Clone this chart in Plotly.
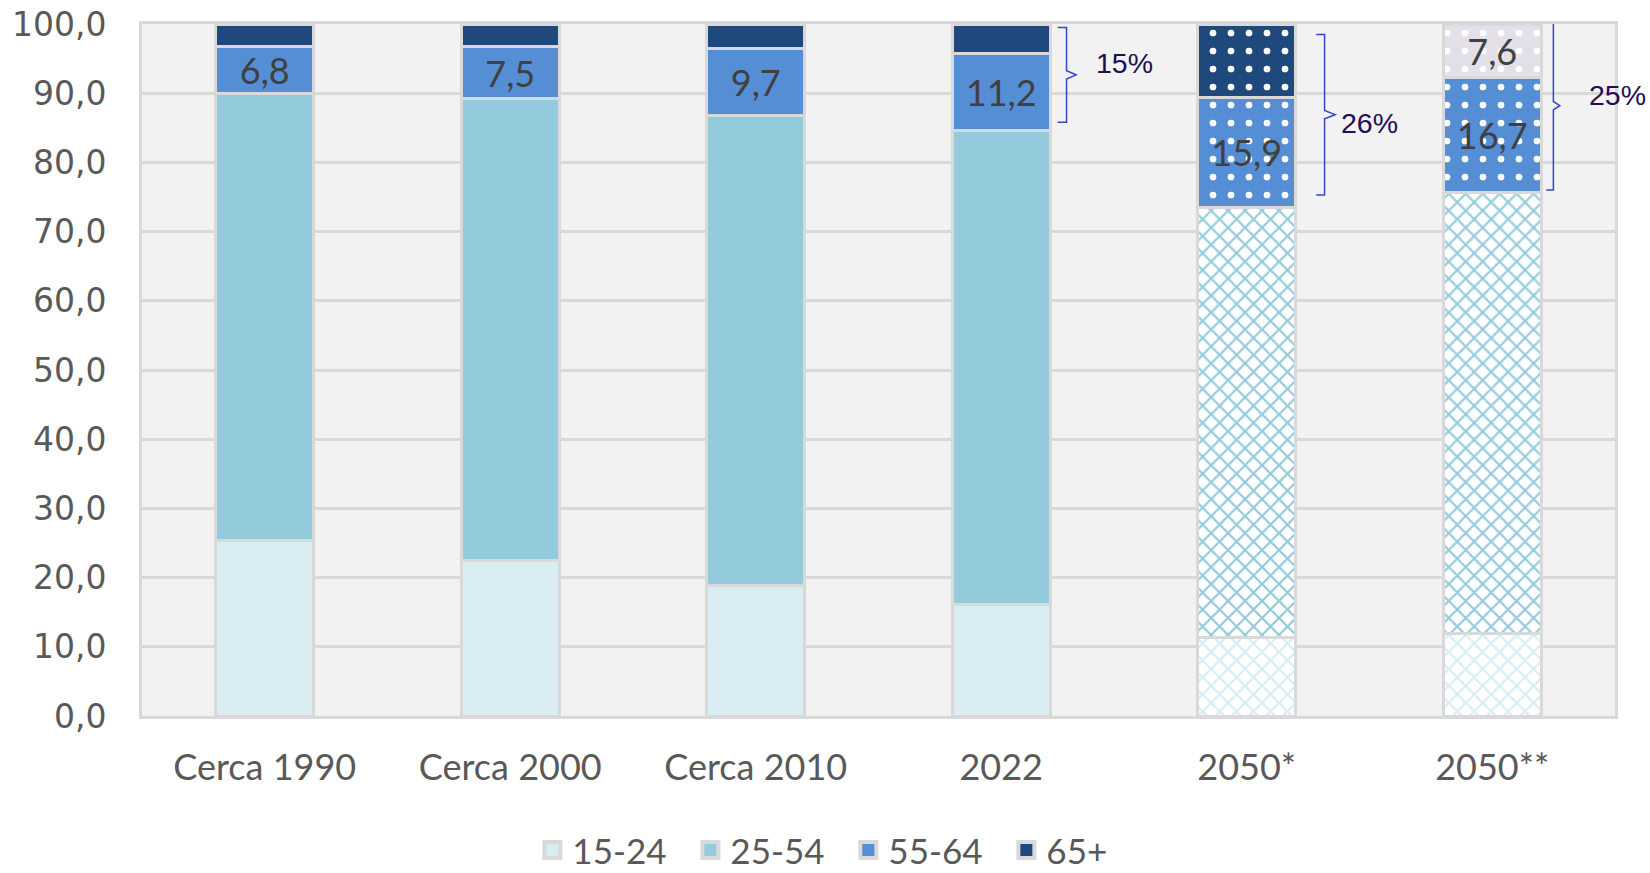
import plotly.graph_objects as go

categories = ["Cerca 1990", "Cerca 2000", "Cerca 2010", "2022", "2050*", "2050**"]
age_15_24 = [25.3, 22.4, 18.9, 16.1, 11.4, 11.9]
age_25_54 = [64.7, 66.8, 67.9, 68.5, 62.1, 63.7]
age_55_64 = [6.8, 7.5, 9.7, 11.2, 15.9, 16.7]
age_65 = [3.2, 3.3, 3.5, 4.2, 10.6, 7.6]
series_names = ["15-24", "25-54", "55-64", "65+"]
bracket_labels = {3: "15%", 4: "26%", 5: "25%"}

C1, C2, C3, C4 = "#daedf3", "#93cbdc", "#558ed5", "#1f497d"
C4b = "#e3e0ea"
GRID = "#d9d9d9"
LBL = "#404040"
TICK = "#595959"
proj = [False, False, False, False, True, True]
ncat = len(categories)

fig = go.Figure()


def zig(col):
    return dict(
        shape=["x" if p else "" for p in proj],
        fgcolor=[col] * len(proj),
        bgcolor=["white" if p else col for p in proj],
        size=12, solidity=0.33, fillmode="replace")


def dots(cols):
    return dict(
        shape=["." if p else "" for p in proj],
        fgcolor=["white"] * len(proj),
        bgcolor=cols,
        size=18, solidity=0.11, fillmode="replace")


line = dict(color=GRID, width=3)
txtfont = dict(family="Lato", size=36, color=LBL)

fig.add_trace(go.Bar(name="15-24", x=categories, y=age_15_24, showlegend=False,
                     marker=dict(color=C1, line=line, pattern=zig(C1))))
fig.add_trace(go.Bar(name="25-54", x=categories, y=age_25_54, showlegend=False,
                     marker=dict(color=C2, line=line, pattern=zig(C2))))
fig.add_trace(go.Bar(name="55-64", x=categories, y=age_55_64, showlegend=False,
                     texttemplate="%{y:.1f}", textposition="inside", insidetextanchor="middle",
                     textangle=0, constraintext="none", textfont=txtfont,
                     marker=dict(color=C3, line=line, pattern=dots([C3] * 6))))
c65 = [C4] * 5 + [C4b]
fig.add_trace(go.Bar(name="65+", x=categories, y=age_65, showlegend=False,
                     texttemplate=[""] * 5 + ["%{y:.1f}"], textposition="inside",
                     insidetextanchor="middle", textangle=0, constraintext="none",
                     textfont=txtfont,
                     marker=dict(color=C4, line=line, pattern=dots(c65))))

# legend entries (larger square symbols)
for name, col in zip(series_names, [C1, C2, C3, C4]):
    fig.add_trace(go.Scatter(name=name, x=[categories[0]], y=[None], mode="markers",
                             marker=dict(symbol="square", size=16, color=col,
                                         line=dict(color=GRID, width=4)),
                             showlegend=True))

# brackets: (left tick, spine, tip) offsets from category centre, and (bottom, top) insets
offs = {3: (0.23, 0.266, 0.305), 4: (0.283, 0.317, 0.36), 5: (0.22, 0.249, 0.275)}
insets = {3: (1.2, 0.5), 4: (1.8, 1.5), 5: (0.4, -0.5)}
lab_pos = {3: (0.5, 94.4), 4: (0.5, 85.7), 5: (0.51, 89.8)}
for i, txt in bracket_labels.items():
    base = age_15_24[i] + age_25_54[i]
    top = base + age_55_64[i] + age_65[i]
    y0, y1 = base + insets[i][0], top - insets[i][1]
    ym = (y0 + y1) / 2
    a, b, c = (i + o for o in offs[i])
    path = (f"M {a},{y1} L {b},{y1} L {b},{ym + 0.6} L {c},{ym} "
            f"L {b},{ym - 0.6} L {b},{y0} L {a},{y0}")
    fig.add_shape(type="path", path=path, xref="x", yref="y",
                  line=dict(color="#3346c4", width=1.5))
    dx, ly = lab_pos[i]
    fig.add_annotation(x=(i + dx + 0.5) / ncat, y=ly, xref="paper", yref="y", text=txt,
                       xanchor="center", yanchor="middle", showarrow=False,
                       font=dict(family="Liberation Sans", size=28.5, color="#220e52"))

fig.update_layout(
    barmode="stack", bargap=0.6,
    width=1650, height=873,
    margin=dict(l=142, r=35, t=24, b=157, autoexpand=False),
    paper_bgcolor="white", plot_bgcolor="#f2f2f2",
    separators=",.",
    showlegend=True,
    legend=dict(orientation="h", x=0.265, xanchor="left", y=-0.194, yanchor="middle",
                font=dict(family="Lato", size=35, color=TICK),
                entrywidth=113, traceorder="normal", itemclick=False),
    font=dict(family="Lato"),
)
fig.update_xaxes(range=[-0.5, ncat - 0.5], showgrid=False, showline=True,
                 linecolor=GRID, linewidth=3, mirror=True,
                 ticks="", ticklabelstandoff=18, automargin=False,
                 tickfont=dict(family="Lato", size=36, color=TICK))
fig.update_yaxes(range=[0, 100], dtick=10, tickformat=".1f", showgrid=True, gridcolor=GRID,
                 gridwidth=3, showline=True, linecolor=GRID, linewidth=3, mirror=True,
                 zeroline=False, ticks="", ticklabelstandoff=26, automargin=False,
                 ticklabeloverflow="allow",
                 tickfont=dict(family="DejaVu Sans", size=33, color=TICK))

# remove the page's default 8px body margin so the figure fills the window exactly
fig.write_html("out.html", config={"displayModeBar": False},
               post_script="document.body.style.margin='0';")
